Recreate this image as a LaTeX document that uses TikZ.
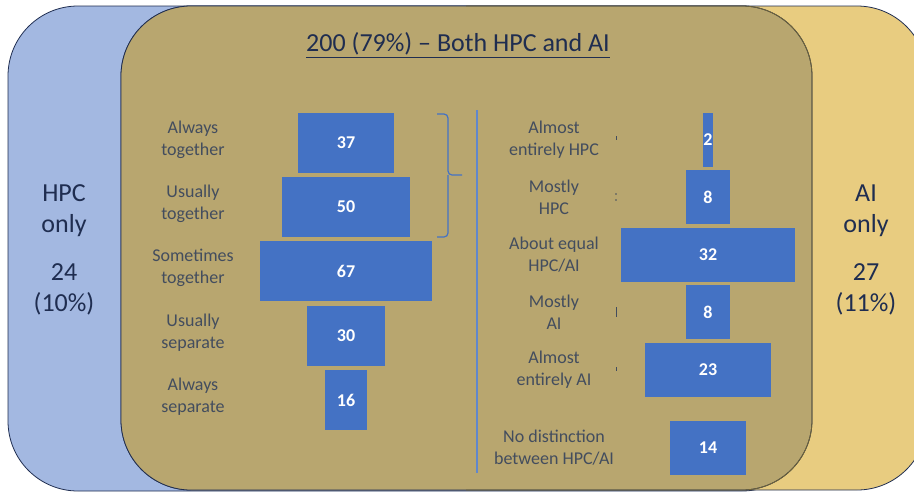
\documentclass[tikz,border=0pt]{standalone}
\usepackage{fontspec}
\setmainfont{Carlito}
\usepackage{xcolor}
\usetikzlibrary{positioning}
\definecolor{hpcblue}{HTML}{A3B8E1}
\definecolor{aiyellow}{HTML}{E8CC80}
\definecolor{bothtan}{HTML}{B8A66F}
\definecolor{barblue}{HTML}{4472C4}
\definecolor{navy}{HTML}{1F2D50}
\definecolor{lblgray}{HTML}{434D5E}
\definecolor{edgeolive}{HTML}{6E6238}
\tikzset{
  hbar/.style={fill=barblue, text=white, inner sep=0pt, font=\fontsize{18}{20}\selectfont\bfseries},
  lbl/.style={text=lblgray, align=center, font=\fontsize{18}{22}\selectfont},
  big/.style={text=navy, align=center, font=\fontsize{26}{31}\selectfont},
}

\begin{document}
\begin{tikzpicture}[x=1pt, y=-1pt]
    \useasboundingbox (0,0) rectangle (914,491);
    % Sets
    \filldraw[fill=hpcblue, draw=navy, line width=0.8pt, rounded corners=70pt] (8,6) rectangle (812,491);
    \filldraw[fill=aiyellow, draw=navy, line width=0.8pt, rounded corners=70pt] (121,6) rectangle (927,490);
    \filldraw[fill=bothtan, draw=navy, line width=0.8pt, rounded corners=70pt] (121,6) rectangle (812,490);
    \begin{scope}
        \clip (466,0) rectangle (914,491);
        \draw[edgeolive, line width=0.8pt, rounded corners=70pt] (121,6) rectangle (812,490);
    \end{scope}
    % Title
    \node[big, font=\fontsize{26}{30}\selectfont] (title) at (458,45) {\underline{200 (79\%) – Both HPC and AI}};
    % Outer counts
    \node[big] (hpconly) at (64,211) {HPC\\only};
    \node[big] (hpcnum) at (64,289) {24\\(10\%)};
    \node[big] (aionly) at (866,211) {AI\\only};
    \node[big] (ainum) at (866,289) {27\\(11\%)};
    % Left funnel
    \foreach \n/\yy/\txt [count=\i] in {37/143/{Always\\together}, 50/207/{Usually\\together},
        67/271/{Sometimes\\together}, 30/336/{Usually\\separate}, 16/400/{Always\\separate}}
    {
        \node[hbar, minimum width=2.57*\n, minimum height=60] (l\i) at (346,\yy) {\n};
        \node[lbl] (ll\i) at (193,\yy-3) {\txt};
    }
    % Brace
    \draw[barblue, line width=1.2pt, rounded corners=4pt] (437,114) -- (448,114) -- (448,175) -- (462,175);
    \draw[barblue, line width=1.2pt, rounded corners=4pt] (437,237) -- (448,237) -- (448,175);
    % Divider
    \draw[barblue!85!white, line width=1.5pt] (477,110) -- (477,473);
    % Right funnel
    \foreach \n/\yy/\txt [count=\i] in {2/139.5/{Almost\\entirely HPC}, 8/197/{Mostly\\HPC},
        32/254.5/{About equal\\HPC/AI}, 8/312/{Mostly\\AI}, 23/369.5/{Almost\\entirely AI},
        14/448/{No distinction\\between HPC/AI}}
    {
        \node[hbar, minimum width=5.44*\n, minimum height=54] (r\i) at (708,\yy) {\n};
        \node[lbl] (rl\i) at (554,\yy) {\txt};
    }
    % Stray ticks
    \draw[lblgray, line width=0.8pt] (616,136) -- (616,140);
    \fill[lblgray] (616,194) circle (0.8) (616,200) circle (0.8);
    \draw[lblgray, line width=0.8pt] (616,307) -- (616,317);
    \draw[lblgray, line width=0.8pt] (616,367) -- (616,371);
\end{tikzpicture}
\end{document}
